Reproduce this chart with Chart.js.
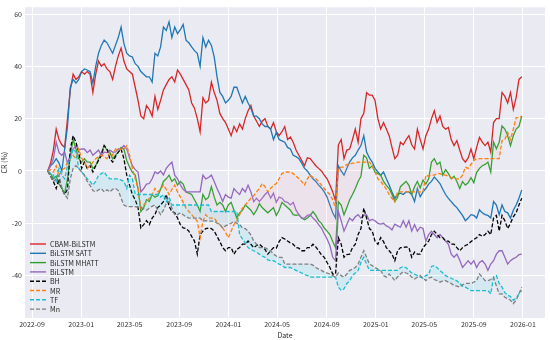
<!DOCTYPE html>
<html>
<head>
<meta charset="utf-8">
<script src="https://cdn.jsdelivr.net/npm/chart.js@4.4.1/dist/chart.umd.min.js"></script>
<style>
  html, body { margin: 0; padding: 0; background: #fff; }
  #wrap { width: 550px; height: 340px; }
</style>
</head>
<body>
<div id="wrap"><canvas id="myChart" width="550" height="340"></canvas></div>
<script>
// weekly readings, first one on 2022-10-10
const startDate = '2022-10-10';
const stepDays = 7;

const tickDates = ['2022-09-01', '2023-01-01', '2023-05-01', '2023-09-01', '2024-01-01', '2024-05-01',
  '2024-09-01', '2025-01-01', '2025-05-01', '2025-09-01', '2026-01-01'];
const tickLabels = ['2022-09', '2023-01', '2023-05', '2023-09', '2024-01', '2024-05',
  '2024-09', '2025-01', '2025-05', '2025-09', '2026-01'];
const yTicks = [-40, -20, 0, 20, 40, 60];

const seriesNames = ['CBAM-BiLSTM', 'BiLSTM SATT', 'BiLSTM MHATT', 'BiLSTM', 'BH', 'MR', 'TF', 'Mn'];

const cbamBilstm = [
  0, 3, 8, 16, 12, 10, 9, 20, 31, 37,
  35, 36, 38, 37, 38, 37, 30, 37, 42, 40,
  41, 39, 38, 35, 40, 44, 47, 42, 39, 38,
  37, 32, 27, 21, 20, 25, 23.5, 21, 28.5, 23.5,
  27, 31, 33, 35, 36, 34, 38.6, 37, 35, 33,
  31, 26, 24, 20, 15, 28, 26, 27, 34, 30,
  27, 22, 20, 18.5, 16, 13.5, 17, 15, 18, 16,
  20, 23, 25, 21, 19, 17, 19, 20, 17, 16,
  18.5, 15, 13.5, 15, 17, 12, 13, 11, 8, 6,
  4, 2, 5, 4.7, 3.4, 2, 1, 0, -1.6, -3,
  -5.4, -8, -11.5, 10, 12, 4.7, 8, 8.4, 12, 16,
  11, 20, 22, 30, 29, 29, 27, 20, 16, 18.5,
  16, 13.5, 9, 4.7, 6, 11, 10, 12, 13.5, 10,
  8.4, 16, 12, 8.4, 13.5, 16, 20, 23, 18.5, 21,
  17, 16, 16.6, 12, 9.7, 11.6, 8, 4.7, 3.4, 5,
  8.4, 4.7, 9, 12.8, 11, 9.7, 11, 7.2, 18.5, 20,
  20, 30, 28.5, 26, 30, 23.5, 28, 35, 36
];
const bilstmSatt = [
  0, 2, 3, 4.7, 3, 0, 8.4, 17, 32, 35,
  33.6, 35, 38, 39, 38.6, 38, 33.6, 40, 45, 48,
  50, 49, 47, 45, 48, 51, 55, 48.7, 45, 44,
  43.6, 41, 40, 38, 37, 36, 36, 34, 45, 44,
  47.4, 55, 53.7, 57, 51, 55, 52.5, 54, 56, 50,
  49, 47.4, 46, 45, 40, 51, 47.4, 50, 48, 43.6,
  36, 30, 28.5, 26, 27, 28.5, 32, 32, 29, 26,
  28.5, 26, 24, 21, 21, 20, 18, 17, 17, 16,
  12, 14.7, 12, 11.5, 11, 9, 8.4, 6, 5.5, 4.7,
  3, 1, 0, -1.6, -3, -4, -5.4, -6.5, -8, -10,
  -13, -16, -18, 2, 0, -1.6, 1, 3.4, 5, 6,
  8, 9.7, 13.5, 7.2, 5, 3.4, 1, -0.4, -1.6, -0.4,
  -3, -5.4, -8, -10.4, -9, -8.5, -9, -8, -8, -9,
  -11.7, -6.7, -9.8, -8, -6.7, -5, -4, -2.3, -3.5, -4.8,
  -7, -9, -10.5, -11.7, -13, -14, -15.5, -17, -19, -18,
  -16.7, -17, -18, -14.8, -16, -16.7, -17, -18, -11.7, -13,
  -16.7, -13, -15.5, -16, -18, -15, -13, -10.4, -7.3
];
const bilstmMhatt = [
  0, -1, -3, -2, -5, -6.7, -8.5, -3, 6, 12,
  8.4, 4.7, 3.4, 4.7, 3.4, 3.4, 1, 2, 4.7, 7,
  9.7, 8, 7.2, 4.7, 6, 7.2, 9, 8.4, 4, 1.5,
  -0.5, -1.6, -6.7, -15.5, -14, -11, -11.7, -9, -10, -9.5,
  -7, -4, -3, -1.6, -4, -3, -5.4, -4, -5, -8,
  -8.5, -9, -11, -13, -15.5, -9, -11, -10, -6, -10,
  -13, -12, -13, -15.5, -13, -12, -15, -18, -16, -15,
  -13, -14, -15, -16.7, -15, -12.5, -14, -15, -16, -15,
  -14, -17, -15, -12, -13, -14, -15, -16.7, -17, -16.7,
  -18, -18.6, -18, -17, -15.5, -17, -19, -20, -21.8, -23,
  -24.3, -27, -29.3, -11.7, -13, -16.7, -14, -11, -9, -6.7,
  -4, -2, 6, 5, 1, 2, -0.5, -1, -1.6, -4,
  -5.5, -6.7, -9, -11.7, -10, -6, -5, -4, -5.5, -9,
  -6, -4, -6.5, -3.5, -5, -3, 3.4, 4.7, 2.5, 3.4,
  -1.6, 0.5, -1, -3, -2, -4, -6.7, -4, -5.4, -4.5,
  -2.5, -4.5, -0.5, 1, 2, 2.5, 3.4, -0.4, 11, 8.5,
  11, 17.2, 16, 13.5, 9.7, 13.5, 16, 17, 21
];
const bilstm = [
  0, 2, 4.7, 11, 7, 6, 7.2, 3, 6, 8.4,
  9.7, 8, 8.4, 8.4, 7, 8, 6, 7, 8, 6,
  7.2, 7, 8, 7.2, 7.2, 8.4, 8.4, 9.7, 8.4, 5,
  2, 0.5, -0.4, -8, -6.7, -5, -4.8, -3, -0.4, -1,
  0, -1.5, 1, 2.3, 3.4, -1.6, -3, -5.3, -7, -8,
  -8, -8, -8, -8, -8, -1.6, -3, -2.5, -1.6, -4,
  -6.7, -9, -11.7, -9, -10, -10.4, -6.7, -8, -9, -6.7,
  -8, -5.4, -8, -11.7, -10.4, -11.7, -10.4, -9, -8, -10.4,
  -8.5, -12, -10, -10.4, -11.7, -12, -13, -12, -15, -16.7,
  -18, -18, -17, -16.7, -18, -19, -20.5, -21.8, -24, -26,
  -28.5, -33, -34.3, -15.5, -19, -23, -20.5, -18, -19, -17.5,
  -16.7, -18, -17, -16.7, -19, -18.5, -19, -20, -20.3, -20,
  -21, -21.5, -22.5, -20.3, -21, -21.5, -19, -21.5, -19, -23,
  -20.5, -23, -21.5, -22, -26.8, -24.3, -23, -24.3, -25.5, -24.3,
  -25.5, -26.8, -28, -31.8, -33, -31.8, -34, -36.9, -35.6, -34.3,
  -35.6, -34.3, -36.9, -35, -34.3, -35.6, -38, -35.6, -34.3, -31.8,
  -30.5, -30.5, -33, -35.6, -34.3, -33.5, -33, -32, -31.8
];
const bh = [
  0, -2, -4, -6.7, -3, -6.7, -9, -7, 8.4, 13.5,
  11, 7.2, 1, 3.4, 1, 2, -0.4, 2, 4, 6,
  9.7, 8.4, 4.7, 3.4, 5.5, 7.2, 8.4, 4.7, -1.6, -5.4,
  -9, -11, -14, -21.8, -20.5, -19, -20.5, -18, -16.7, -14,
  -13, -11.7, -9, -13.5, -15.5, -16, -18, -20.5, -21.8, -22,
  -23, -25, -26.8, -31.8, -24.3, -23, -22, -21.8, -22, -23,
  -25, -27, -29.3, -30.5, -29.3, -29.3, -31.8, -30, -29.3, -28,
  -28, -26.8, -28, -29.3, -28.5, -28, -29, -30, -31.8, -30.5,
  -29.3, -29.5, -27, -25.5, -26, -26.8, -27.5, -28, -29.3, -29.5,
  -30.5, -30.5, -29.3, -29.3, -28, -29, -30.5, -32, -33, -35,
  -36.9, -39.4, -39.4, -25.5, -28, -33, -32, -31.8, -29.3, -28,
  -24.3, -22, -14.2, -18, -22, -23, -26.8, -28, -25.5, -27,
  -29.3, -30.5, -31.8, -34.3, -30.5, -29.3, -29.3, -29, -29.3, -33,
  -31, -31.8, -31.8, -29.3, -28, -26.8, -24.3, -23, -24.3, -25.5,
  -25.5, -26.8, -26.8, -28, -28, -29.3, -30.5, -29.3, -28.5, -28,
  -27, -26.2, -25.5, -24.3, -25, -24.3, -23, -24.3, -18, -17,
  -23, -17, -19, -22, -20, -17.5, -16, -13, -10.4
];
const mr = [
  0, 0.5, -0.4, 2, -1.6, 0.5, 1, 3.4, 4.7, 6,
  4.7, 8.4, 5, 3.4, 1, 2, 3.4, 4.7, 5.5, 6,
  5.5, 4.7, 7.2, 6, 8.4, 8, 8.4, 8.4, 9.7, 6,
  1, -3, -6.7, -14.2, -13, -12, -10.4, -9, -6.7, -8,
  -7, -5.4, -7, -9, -7, -5.4, -8, -10, -12, -14.2,
  -15.5, -16.7, -18, -19.2, -25.5, -19.2, -16.7, -18, -18, -18,
  -19.5, -20.5, -21.8, -23.5, -25.5, -23, -20.5, -19.2, -16.7, -14.2,
  -13, -11.7, -10.4, -9.5, -8, -6.7, -4.8, -6, -8, -6.7,
  -5.5, -4.8, -2.9, -1, -0.4, -0.4, -0.4, -1, -2, -2.9,
  -4, -5.4, -3, -1.6, -2.5, -3, -4, -5.5, -6.7, -8,
  -9, -11, -14.2, 1, 1.5, 1.5, 2.5, 2.5, 3, 3,
  3.4, 3.4, 3.4, 3.4, 3.4, 2, -0.4, -3, -4, -5.4,
  -7, -9, -10.5, -11.7, -8, -8, -8, -8, -8, -8,
  -8, -8, -8, -8, -1.6, -2, -1.6, -1.6, -1, -1,
  -1.6, -1.6, -2, -2.5, -3, -3, -3, -1.6, 1.5, 1,
  2.5, 4, 4.7, 4.7, 4.7, 4.7, 4.7, 4.7, 4.7, 4.7,
  4.7, 11.6, 12, 14.7, 12, 16, 20.4, 20.4, 21
];
const tf = [
  0, -1, -1.6, -4, 1, -1.6, -3, 2, 4.7, 8.4,
  7.2, 1, -0.4, -1.6, -3, -4, -5.4, -4, -1.6, -1,
  -0.4, -2, -3, -3, -3, -3, -3.5, -4, -6.7, -1.6,
  -3, -9, -9, -9, -9, -9, -9, -9, -9, -9,
  -10, -9, -11.7, -10, -13, -13, -13, -13, -13, -13,
  -13, -13, -13, -13, -13, -13, -13, -13, -15.5, -15.5,
  -15.5, -15.5, -15.5, -15.5, -15.5, -15.5, -15.5, -15.5, -24.3, -26,
  -27.5, -29.3, -30, -30.5, -31, -31.8, -32.5, -33, -34, -34.3,
  -34.3, -35, -35.6, -36, -36.9, -36.9, -36.9, -37.5, -38, -38.5,
  -39, -39.5, -40, -40.6, -40.6, -40.6, -40.6, -40.6, -40.6, -40.6,
  -40.6, -40.6, -40.6, -44.4, -45.7, -45, -43, -42, -40, -39,
  -38, -35, -33, -35.6, -38, -38, -38, -38, -38, -38,
  -38, -38, -38, -38, -38, -37, -36.5, -37, -38, -39,
  -39.4, -40, -40.6, -41, -40, -39.5, -36.5, -36.2, -37, -38,
  -39, -40, -40.6, -41, -41.5, -42, -43, -44, -44.4, -45,
  -45.7, -45.7, -45.7, -45.7, -45.7, -45.7, -45.7, -47, -40.6, -40,
  -43, -44.4, -46.5, -47.5, -48, -49.4, -48.5, -47, -45.7
];
const mn = [
  0, -2, -4, -3, -1.6, -6.7, -9, -10.4, -3, 1,
  2, 1, -0.4, -1.6, -4, -5.5, -7.5, -8, -7.2, -6.7,
  -8, -7.2, -8, -7, -6.7, -7.5, -10.4, -13, -13.6, -13.6,
  -13.6, -13.6, -14, -14, -14.5, -15, -14.2, -13.5, -13, -15,
  -16.7, -15, -12.5, -11.7, -14.2, -16.7, -16.7, -16, -16.7, -17.5,
  -18, -18, -18, -18, -18, -19.2, -19, -19.2, -19.2, -19.2,
  -20, -20.5, -21.8, -21, -20.5, -20, -19.2, -20, -20.5, -21.8,
  -22, -23, -24.5, -26.8, -28, -29.3, -29.3, -29.3, -30, -30.5,
  -31.8, -32.5, -33, -33, -35.6, -35.6, -35.6, -35.6, -35.6, -35.6,
  -35.6, -35.6, -35.6, -35.6, -36, -36.9, -37.5, -38, -38.7, -39,
  -39.4, -40, -40.6, -39, -40, -40.6, -39.4, -38, -37.5, -36.9,
  -35.6, -33, -30.5, -33, -35.6, -36.2, -36.9, -37.5, -38, -40,
  -40.6, -39.4, -40.6, -41.9, -40.5, -39.4, -38.5, -39, -39.4, -40.6,
  -41.3, -40.6, -40, -41, -41.9, -41, -40.6, -41.5, -41.9, -42.5,
  -42, -41.9, -42.5, -43, -43.8, -44, -44.4, -43.5, -43, -43,
  -43, -42.5, -41.9, -39.4, -40.6, -41.9, -41.9, -41.5, -40.6, -44,
  -47, -47, -48.3, -48.8, -49.4, -50.7, -49.4, -47, -44.4
];

const DAY = 86400000;
const t0 = Date.parse(startDate);
const dayOf = s => Math.round((Date.parse(s) - t0) / DAY);

const colors = ['#d62728', '#1f77b4', '#2ca02c', '#9467bd', '#000000', '#ff7f0e', '#17becf', '#7f7f7f'];
const dashed = [false, false, false, false, true, true, true, true];
const allSeries = [cbamBilstm, bilstmSatt, bilstmMhatt, bilstm, bh, mr, tf, mn];

const FONT = "'Noto Sans CJK SC', 'DejaVu Sans', sans-serif";
const BG = '#eaeaf2';

const datasets = allSeries.map((vals, k) => ({
  label: seriesNames[k],
  data: vals.map((v, i) => ({ x: i * stepDays, y: v })),
  borderColor: colors[k],
  backgroundColor: colors[k],
  borderWidth: 1.3,
  borderDash: dashed[k] ? [4, 2] : [],
  pointRadius: 0,
  tension: 0,
  fill: false,
  order: 8 - k
}));
// faint bands seen in the picture
datasets[5].fill = { target: 2 };
datasets[5].backgroundColor = 'rgba(255, 170, 200, 0.12)';
datasets[6].fill = { target: 7 };
datasets[6].backgroundColor = 'rgba(0, 225, 235, 0.09)';

const bgPlugin = {
  id: 'bg',
  beforeDraw(chart) {
    const { ctx, chartArea: a } = chart;
    ctx.save();
    ctx.fillStyle = '#ffffff';
    ctx.fillRect(0, 0, chart.width, chart.height);
    ctx.fillStyle = BG;
    ctx.fillRect(a.left, a.top, a.right - a.left, a.bottom - a.top);
    ctx.restore();
  }
};

const legendPlugin = {
  id: 'innerLegend',
  afterDatasetsDraw(chart) {
    const ctx = chart.ctx;
    ctx.save();
    ctx.font = '7px ' + FONT;
    ctx.textBaseline = 'middle';
    seriesNames.forEach((name, k) => {
      const y = 244 + k * 9.3;
      ctx.strokeStyle = colors[k];
      ctx.lineWidth = 1.4;
      ctx.setLineDash(dashed[k] ? [4, 2] : []);
      ctx.beginPath();
      ctx.moveTo(30, y);
      ctx.lineTo(46, y);
      ctx.stroke();
      ctx.fillStyle = '#262626';
      ctx.fillText(name, 50, y + 0.5);
    });
    ctx.restore();
  }
};

new Chart(document.getElementById('myChart'), {
  type: 'line',
  data: { datasets },
  options: {
    responsive: false,
    animation: false,
    devicePixelRatio: 1,
    layout: { padding: { left: 0, right: 5, top: 3, bottom: 0 } },
    plugins: {
      legend: { display: false },
      tooltip: { enabled: false },
      filler: { propagate: false }
    },
    scales: {
      x: {
        type: 'linear',
        min: -56.4,
        max: 1233.6,
        afterBuildTicks: s => { s.ticks = tickDates.map(d => ({ value: dayOf(d) })); },
        afterFit: s => { s.height = 22; },
        ticks: {
          font: { family: FONT, size: 7 },
          color: '#333',
          padding: 2,
          maxRotation: 0,
          autoSkip: false,
          callback: (v, i) => tickLabels[i]
        },
        grid: { color: '#ffffff', lineWidth: 1, drawTicks: false },
        border: { display: false },
        title: { display: true, text: 'Date', font: { family: FONT, size: 7 }, color: '#262626', padding: 0 }
      },
      y: {
        min: -56.2,
        max: 62.6,
        afterBuildTicks: s => { s.ticks = yTicks.map(v => ({ value: v })); },
        afterFit: s => { s.width = 25; },
        ticks: { font: { family: FONT, size: 7 }, color: '#333', padding: 3 },
        grid: { color: '#ffffff', lineWidth: 1, drawTicks: false },
        border: { display: false },
        title: { display: true, text: 'CR (%)', font: { family: FONT, size: 7 }, color: '#262626', padding: 0 }
      }
    }
  },
  plugins: [bgPlugin, legendPlugin]
});
</script>
</body>
</html>
